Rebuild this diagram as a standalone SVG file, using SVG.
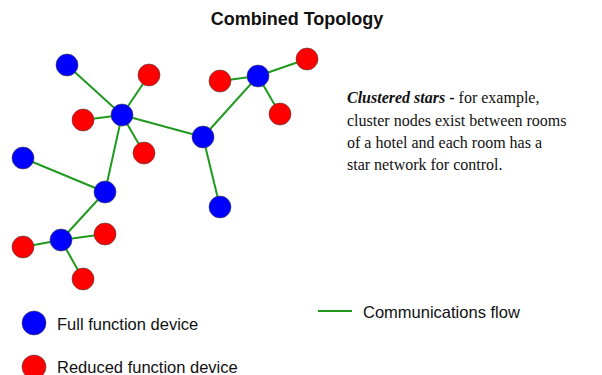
<svg xmlns="http://www.w3.org/2000/svg" width="602" height="375" viewBox="0 0 602 375">
<style>
.ffd{fill:#0000ff;stroke:#444;stroke-width:0.6}
.rfd{fill:#ff0000;stroke:#444;stroke-width:0.6}
.edge{stroke:#1f9a1f;stroke-width:2;fill:none}
.sans{font-family:"Liberation Sans",Arial,sans-serif;fill:#111}
.lg{font-size:16.5px}
.serif{font-family:"Liberation Serif","Times New Roman",serif;fill:#111;font-size:16px}
</style>
<rect width="602" height="375" fill="#fff"/>
<text class="sans" x="297" y="25" text-anchor="middle" font-size="18" font-weight="bold">Combined Topology</text>
<g id="connectors">
<line class="edge" x1="67" y1="65" x2="122" y2="115"/>
<line class="edge" x1="149" y1="75" x2="122" y2="115"/>
<line class="edge" x1="83" y1="120" x2="122" y2="115"/>
<line class="edge" x1="144" y1="153" x2="122" y2="115"/>
<line class="edge" x1="122" y1="115" x2="203" y2="137"/>
<line class="edge" x1="122" y1="115" x2="105" y2="192"/>
<line class="edge" x1="23" y1="158" x2="105" y2="192"/>
<line class="edge" x1="105" y1="192" x2="61" y2="240"/>
<line class="edge" x1="61" y1="240" x2="23" y2="247"/>
<line class="edge" x1="61" y1="240" x2="105" y2="234"/>
<line class="edge" x1="61" y1="240" x2="83" y2="279"/>
<line class="edge" x1="203" y1="137" x2="258" y2="76"/>
<line class="edge" x1="203" y1="137" x2="220" y2="207"/>
<line class="edge" x1="258" y1="76" x2="220" y2="81"/>
<line class="edge" x1="258" y1="76" x2="307" y2="59"/>
<line class="edge" x1="258" y1="76" x2="280" y2="114"/>
</g>
<g id="ffd1"><circle class="ffd" cx="67" cy="65" r="11"/></g>
<g id="rfd1"><circle class="rfd" cx="149" cy="75" r="11"/></g>
<g id="rfd2"><circle class="rfd" cx="83" cy="120" r="11"/></g>
<g id="ffd2"><circle class="ffd" cx="122" cy="115" r="11"/></g>
<g id="rfd3"><circle class="rfd" cx="144" cy="153" r="11"/></g>
<g id="ffd3"><circle class="ffd" cx="23" cy="158" r="11"/></g>
<g id="ffd4"><circle class="ffd" cx="105" cy="192" r="11"/></g>
<g id="ffd5"><circle class="ffd" cx="203" cy="137" r="11"/></g>
<g id="ffd6"><circle class="ffd" cx="258" cy="76" r="11"/></g>
<g id="rfd4"><circle class="rfd" cx="220" cy="81" r="11"/></g>
<g id="rfd5"><circle class="rfd" cx="307" cy="59" r="11"/></g>
<g id="rfd6"><circle class="rfd" cx="280" cy="114" r="11"/></g>
<g id="ffd7"><circle class="ffd" cx="220" cy="207" r="11"/></g>
<g id="ffd8"><circle class="ffd" cx="61" cy="240" r="11"/></g>
<g id="rfd7"><circle class="rfd" cx="23" cy="247" r="11"/></g>
<g id="rfd8"><circle class="rfd" cx="105" cy="234" r="11"/></g>
<g id="rfd9"><circle class="rfd" cx="83" cy="279" r="11"/></g>
<g id="description">
<text class="serif" x="347" y="103"><tspan font-weight="bold" font-style="italic">Clustered stars</tspan><tspan font-weight="bold"> -</tspan> for example,</text>
<text class="serif" x="347" y="126">cluster nodes exist between rooms</text>
<text class="serif" x="347" y="148">of a hotel and each room has a</text>
<text class="serif" x="347" y="170">star network for control.</text>
</g>
<g id="legend">
<circle class="ffd" cx="34" cy="323" r="12"/>
<text class="sans lg" x="57" y="330">Full function device</text>
<circle class="rfd" cx="34" cy="367" r="12"/>
<text class="sans lg" x="57" y="373">Reduced function device</text>
<line class="edge" x1="318" y1="311" x2="352" y2="311"/>
<text class="sans lg" x="363" y="318">Communications flow</text>
</g>
</svg>
